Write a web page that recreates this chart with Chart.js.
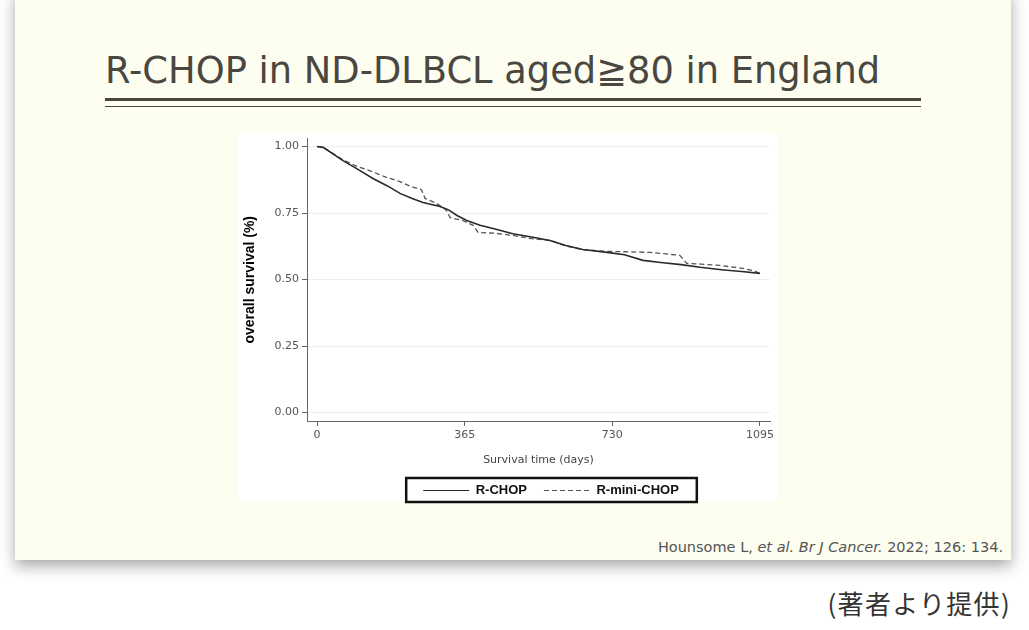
<!DOCTYPE html>
<html>
<head>
<meta charset="utf-8">
<script src="https://cdn.jsdelivr.net/npm/chart.js@4.4.1/dist/chart.umd.min.js"></script>
<style>
  body { margin: 0; width: 1029px; height: 630px; background: #fff; position: relative; overflow: hidden; }
  #slide { position: absolute; left: 15px; top: -10px; width: 996px; height: 570px; background: #fdfdf0;
           box-shadow: 0 6px 14px rgba(0,0,0,0.35); }
  #title { position: absolute; left: 105px; top: 49px; font: 36.8px "DejaVu Sans"; color: #4a4740; white-space: nowrap; }
  .rule1 { position: absolute; left: 105px; top: 98px; width: 816px; height: 3px; background: #4a4740; }
  .rule2 { position: absolute; left: 105px; top: 106px; width: 816px; height: 1px; background: #4a4740; }
  #panel { position: absolute; left: 238px; top: 133px; width: 540px; height: 368px; background: #fff; }
  #wrap { position: absolute; left: 238px; top: 129px; width: 626px; height: 378px; }
  #cite { position: absolute; right: 26px; top: 539px; font: 14.5px "DejaVu Sans"; color: #555; white-space: nowrap; }
  #note { position: absolute; right: 18px; top: 584px; font: 26px "Noto Sans CJK JP"; color: #333; letter-spacing: 1.3px; }
</style>
</head>
<body>
<div id="slide"></div>
<div id="title">R-CHOP in ND-DLBCL aged≧80 in England</div>
<div class="rule1"></div>
<div class="rule2"></div>
<div id="panel"></div>
<div id="wrap"><canvas id="km"></canvas></div>
<div id="cite">Hounsome L, <i>et al. Br J Cancer.</i> 2022; 126: 134.</div>
<div id="note">(著者より提供)</div>

<script>
// Kaplan-Meier curves
const rchopDays = [0, 15, 64, 100, 138, 174, 205, 235, 262, 304, 325, 346, 370, 403, 440, 484, 530, 576, 615, 657, 717, 760, 806, 850, 900, 947, 1000, 1050, 1095];
const rchopSurv = [1.0, 0.997, 0.947, 0.915, 0.880, 0.852, 0.824, 0.805, 0.790, 0.775, 0.762, 0.741, 0.722, 0.704, 0.690, 0.672, 0.660, 0.647, 0.628, 0.613, 0.602, 0.593, 0.572, 0.564, 0.556, 0.546, 0.537, 0.530, 0.523];
const miniDays = [0, 15, 64, 100, 131, 170, 205, 230, 250, 258, 267, 290, 311, 320, 329, 360, 386, 398, 440, 484, 530, 580, 615, 660, 717, 823, 897, 914, 950, 996, 1053, 1080, 1095];
const miniSurv = [1.0, 0.997, 0.950, 0.925, 0.909, 0.885, 0.868, 0.851, 0.842, 0.838, 0.805, 0.790, 0.771, 0.760, 0.733, 0.722, 0.704, 0.677, 0.674, 0.666, 0.654, 0.646, 0.626, 0.612, 0.606, 0.602, 0.591, 0.561, 0.558, 0.553, 0.542, 0.533, 0.523];
const seriesNames = ["R-CHOP", "R-mini-CHOP"];
const xTicks = [0, 365, 730, 1095];
const yTicks = [0, 0.25, 0.5, 0.75, 1];

function toPoints(xs, ys) {
    return xs.map((x, i) => ({ x: x, y: ys[i] }));
}

// draws the black frame round the legend
const legendFrame = {
    id: "legendFrame",
    afterDraw(chart) {
        const boxes = chart.legend.legendHitBoxes;
        if (!boxes || !boxes.length) return;
        const left = Math.min(...boxes.map(b => b.left)) - 17;
        const right = Math.max(...boxes.map(b => b.left + b.width)) + 18;
        const top = boxes[0].top - 6;
        const bottom = boxes[0].top + boxes[0].height + 5;
        const ctx = chart.ctx;
        ctx.save();
        ctx.strokeStyle = "#111";
        ctx.lineWidth = 2.5;
        ctx.strokeRect(left, top, right - left, bottom - top);
        ctx.restore();
    }
};

new Chart(document.getElementById("km"), {
    type: "line",
    data: {
        datasets: [{
            label: seriesNames[0],
            data: toPoints(rchopDays, rchopSurv),
            borderColor: "#2a2a2a",
            borderWidth: 1.6,
            pointRadius: 0,
            tension: 0
        }, {
            label: seriesNames[1],
            data: toPoints(miniDays, miniSurv),
            borderColor: "#555",
            borderWidth: 1.3,
            borderDash: [5, 3],
            pointRadius: 0,
            tension: 0
        }]
    },
    options: {
        responsive: true,
        maintainAspectRatio: false,
        animation: false,
        layout: { padding: 0 },
        plugins: {
            tooltip: { enabled: false },
            legend: {
                position: "bottom",
                labels: {
                    usePointStyle: true,
                    pointStyle: "line",
                    pointStyleWidth: 46,
                    padding: 17,
                    color: "#111",
                    font: { family: "Liberation Sans", size: 13, weight: "bold" },
                    generateLabels: chart => {
                        const items = Chart.defaults.plugins.legend.labels.generateLabels(chart);
                        items.forEach(it => {
                            const ds = chart.data.datasets[it.datasetIndex];
                            it.lineDash = ds.borderDash || [];
                            it.lineWidth = 1.2;
                            it.strokeStyle = ds.borderColor;
                        });
                        return items;
                    }
                }
            }
        },
        scales: {
            x: {
                type: "linear",
                min: -25,
                max: 1120,
                afterBuildTicks: s => { s.ticks = xTicks.map(v => ({ value: v })); },
                afterFit: s => { s.height = 46; },
                grid: { drawOnChartArea: false, tickLength: 5, tickColor: "#666" },
                border: { color: "#666", width: 1 },
                ticks: { color: "#555", padding: 3, maxRotation: 0, callback: v => String(v), font: { family: "DejaVu Sans", size: 11 } },
                title: {
                    display: true,
                    text: "Survival time (days)",
                    color: "#444",
                    padding: { top: 0, bottom: 0 },
                    font: { family: "DejaVu Sans", size: 11 }
                }
            },
            y: {
                min: -0.032,
                max: 1.03,
                afterBuildTicks: s => { s.ticks = yTicks.map(v => ({ value: v })); },
                afterFit: s => { s.width = 69; },
                grid: { color: "#eeeeee", tickLength: 5, tickColor: "#666" },
                border: { color: "#666", width: 1 },
                ticks: { color: "#555", padding: 3, callback: v => v.toFixed(2), font: { family: "DejaVu Sans", size: 11 } },
                title: {
                    display: true,
                    text: "overall survival (%)",
                    color: "#000",
                    padding: { top: 4, bottom: 4 },
                    font: { family: "Liberation Sans", size: 14, weight: "bold" }
                }
            },
            // empty right-hand axis: keeps the legend centred under the plot
            pad: {
                position: "right",
                min: 0,
                max: 1,
                afterFit: s => { s.width = 94; },
                grid: { display: false },
                border: { display: false },
                ticks: { display: false }
            }
        }
    },
    plugins: [legendFrame]
});
</script>
</body>
</html>
